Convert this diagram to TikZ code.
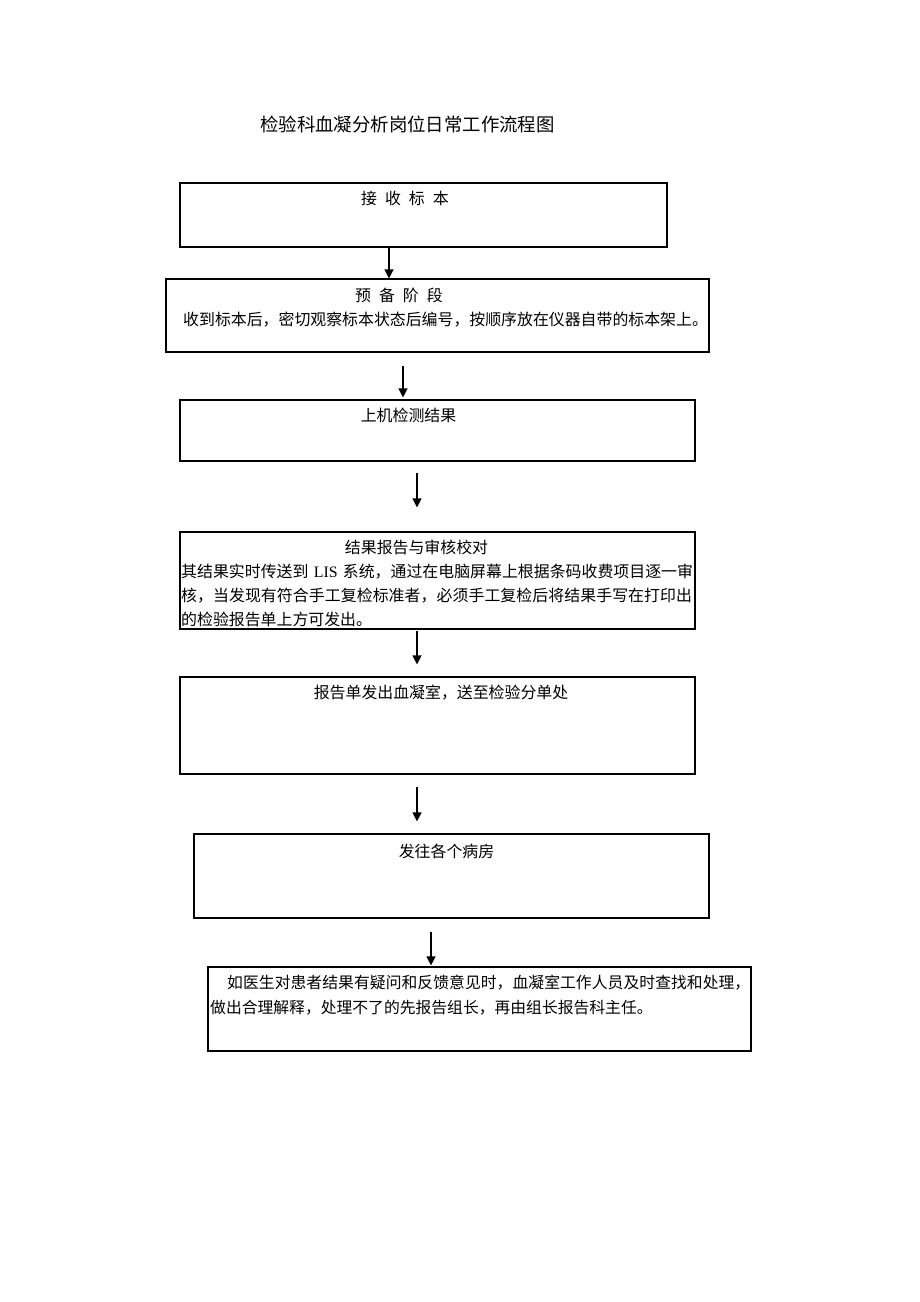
\documentclass[tikz,border=0pt]{standalone}
\usepackage{fontspec}
\usetikzlibrary{arrows.meta}
\newfontfamily\cjk{Noto Sans CJK SC}
\newfontfamily\lat{Liberation Serif}
\XeTeXlinebreaklocale "zh"
\XeTeXlinebreakskip=0pt plus 2pt
\tikzset{
  box/.style={draw=black, line width=1.2pt, rectangle, inner sep=0pt},
  txt/.style={inner sep=0pt, font=\cjk\fontsize{15.9}{24}\selectfont},
  arr/.style={line width=1.3pt, -{Triangle[length=9pt,width=9pt]}}
}
\begin{document}
\begin{tikzpicture}[x=1pt,y=-1pt]
\useasboundingbox[fill=white] (0,0) rectangle (920,1302);

\node[txt, anchor=base, font=\cjk\fontsize{18.4}{22}\selectfont] (title) at (407.5,131) {检验科血凝分析岗位日常工作流程图};

\node[box, minimum width=487pt, minimum height=64pt] (b1) at (423.5,215) {};
\node[box, minimum width=543pt, minimum height=73pt] (b2) at (437.5,315.5) {};
\node[box, minimum width=515pt, minimum height=61pt] (b3) at (437.5,430.5) {};
\node[box, minimum width=515pt, minimum height=97pt] (b4) at (437.5,580.5) {};
\node[box, minimum width=515pt, minimum height=97pt] (b5) at (437.5,725.5) {};
\node[box, minimum width=515pt, minimum height=84pt] (b6) at (451.5,876) {};
\node[box, minimum width=543pt, minimum height=84pt] (b7) at (479.5,1009) {};

\node[txt, anchor=base] (t1) at (405,204) {接\hspace{8pt}收\hspace{8pt}标\hspace{8pt}本};
\node[txt, anchor=base] (t2a) at (399,301) {预\hspace{8pt}备\hspace{8pt}阶\hspace{8pt}段};
\node[txt, anchor=base west] (t2b) at (183,325) {收到标本后，密切观察标本状态后编号，按顺序放在仪器自带的标本架上。};
\node[txt, anchor=base] (t3) at (408.5,421) {上机检测结果};
\node[txt, anchor=base] (t4a) at (416.5,553) {结果报告与审核校对};
\node[txt, anchor=base west, text width=512pt] (t4b) at (181,577) {其结果实时传送到 {\lat LIS} 系统，通过在电脑屏幕上根据条码收费项目逐一审\linebreak 核，当发现有符合手工复检标准者，必须手工复检后将结果手写在打印出\linebreak 的检验报告单上方可发出。};
\node[txt, anchor=base] (t5) at (441,698) {报告单发出血凝室，送至检验分单处};
\node[txt, anchor=base] (t6) at (446.5,857) {发往各个病房};
\node[txt, anchor=base west, text width=541pt, font=\cjk\fontsize{15.8}{25}\selectfont] (t7) at (210,988) {\hspace*{17pt}如医生对患者结果有疑问和反馈意见时，血凝室工作人员及时查找和处理，\linebreak 做出合理解释，处理不了的先报告组长，再由组长报告科主任。};

\draw[arr] ([xshift=-34.5pt]b1.south) -- ([xshift=-48.5pt]b2.north);
\draw[arr] ([xshift=-34.5pt,yshift=-13pt]b2.south) -- ([xshift=-34.5pt,yshift=2pt]b3.north);
\draw[arr] ([xshift=-20.5pt,yshift=-11pt]b3.south) -- ([xshift=-20.5pt,yshift=24pt]b4.north);
\draw[arr] ([xshift=-20.5pt,yshift=-1pt]b4.south) -- ([xshift=-20.5pt,yshift=12pt]b5.north);
\draw[arr] ([xshift=-20.5pt,yshift=-12pt]b5.south) -- ([xshift=-34.5pt,yshift=12pt]b6.north);
\draw[arr] ([xshift=-20.5pt,yshift=-13pt]b6.south) -- ([xshift=-48.5pt,yshift=1pt]b7.north);
\end{tikzpicture}
\end{document}
